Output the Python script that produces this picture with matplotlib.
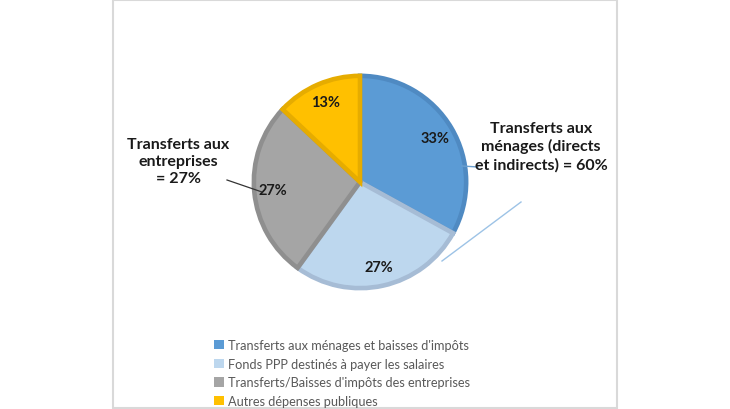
import matplotlib
matplotlib.use("Agg")
import matplotlib.pyplot as plt
from matplotlib.patches import Patch, Rectangle
from matplotlib.lines import Line2D

categories = ["Transferts aux ménages et baisses d'impôts",
              "Fonds PPP destinés à payer les salaires",
              "Transferts/Baisses d'impôts des entreprises",
              "Autres dépenses publiques"]
values = [33, 27, 27, 13]
face_colors = ["#5B9BD5", "#BDD7EE", "#A5A5A5", "#FFC000"]
edge_colors = ["#4F8AC2", "#A6BCD5", "#8F8F8F", "#E6AC00"]
group_labels = ["Transferts aux\nménages (directs\net indirects) = 60%",
                "Transferts aux\nentreprises\n= 27%"]

plt.rcParams['font.family'] = ['Lato', 'DejaVu Sans']

W, H = 730, 410
fig = plt.figure(figsize=(W / 100, H / 100), dpi=100)

def fx(x):
    return x / W

def fy(y):
    return 1 - y / H

# outer border
fig.patches.append(Rectangle((fx(113), fy(409)), fx(617) - fx(113), fy(1) - fy(409),
                             transform=fig.transFigure, fill=False,
                             edgecolor="#D9D9D9", linewidth=1.5))

cx, cy, R = 360, 183, 110
ax = fig.add_axes([fx(cx - R), fy(cy + R), 2 * R / W, 2 * R / H])
wedges, texts, autotexts = ax.pie(values, colors=face_colors, startangle=90,
                                  counterclock=False, radius=0.965,
                                  autopct=lambda p: f"{p:.0f}%", pctdistance=0.82,
                                  textprops=dict(fontsize=10.5, fontweight='bold', color='#1a1a1a'))
for w, ec in zip(wedges, edge_colors):
    w.set_edgecolor(ec)
    w.set_linewidth(3.3)
ax.set_xlim(-1, 1)
ax.set_ylim(-1, 1)
ax.set_aspect('equal')
ax.axis('off')

# group annotations
fig.text(fx(541), fy(147), group_labels[0], ha='center', va='center',
         fontsize=11.5, fontweight='bold', color='#1a1a1a', linespacing=1.3)
fig.text(fx(178), fy(162), group_labels[1], ha='center', va='center',
         fontsize=11.5, fontweight='bold', color='#1a1a1a', linespacing=1.3)

# leader lines
fig.add_artist(Line2D([fx(462), fx(478)], [fy(167), fy(168)], transform=fig.transFigure,
                      color='#6A9FCF', linewidth=1))
fig.add_artist(Line2D([fx(442), fx(521)], [fy(262), fy(203)], transform=fig.transFigure,
                      color='#9DC3E6', linewidth=1))
fig.add_artist(Line2D([fx(227), fx(262)], [fy(181), fy(193)], transform=fig.transFigure,
                      color='#333333', linewidth=0.9))

# legend
handles = [Patch(facecolor=c, edgecolor='none') for c in face_colors]
fig.legend(handles, categories, loc='upper left', bbox_to_anchor=(fx(214), fy(340)),
           frameon=False, fontsize=9.2, labelcolor='#595959',
           handlelength=0.75, handleheight=0.75, handletextpad=0.35,
           labelspacing=0.52, borderpad=0, borderaxespad=0)

fig.savefig("out.png", dpi=100)
